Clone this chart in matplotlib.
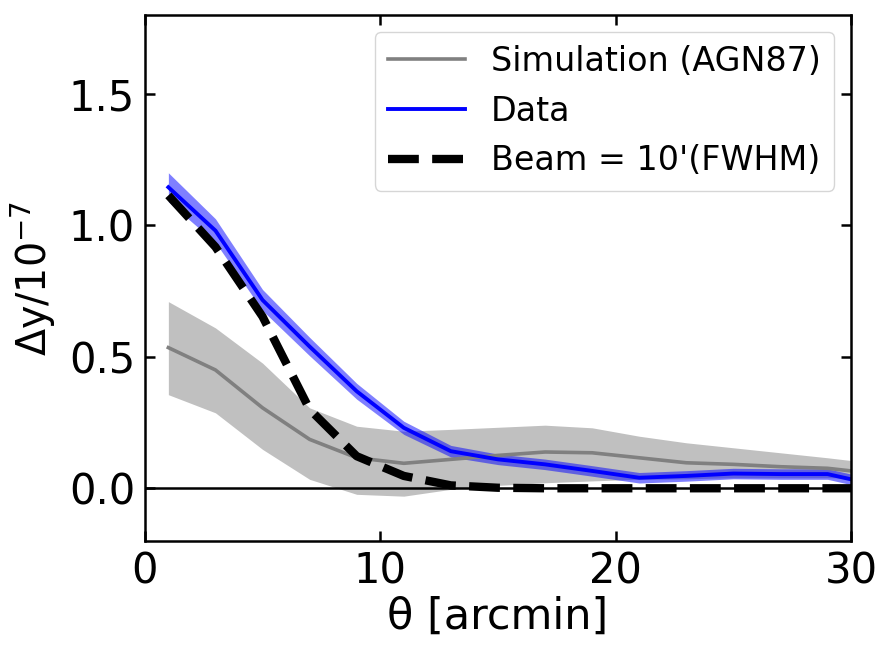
import matplotlib
matplotlib.use("Agg")
import matplotlib.pyplot as plt
import numpy as np

theta = [1, 3, 5, 7, 9, 11, 13, 15, 17, 19, 21, 23, 25, 27, 29, 31]

data = [1.145, 0.98, 0.716, 0.539, 0.369, 0.23, 0.141, 0.11, 0.091, 0.066, 0.04, 0.047, 0.056, 0.054, 0.054, 0.014]
data_err = [0.055, 0.045, 0.04, 0.035, 0.03, 0.025, 0.022, 0.02, 0.02, 0.02, 0.02, 0.02, 0.02, 0.02, 0.02, 0.02]

sim = [0.535, 0.45, 0.306, 0.186, 0.116, 0.095, 0.11, 0.125, 0.138, 0.135, 0.116, 0.097, 0.091, 0.082, 0.076, 0.056]
sim_lo = [0.356, 0.287, 0.148, 0.034, -0.023, -0.03, -0.004, 0.011, 0.021, 0.028, 0.034, 0.036, 0.04, 0.04, 0.04, 0.04]
sim_hi = [0.71, 0.61, 0.476, 0.306, 0.236, 0.217, 0.224, 0.232, 0.24, 0.23, 0.198, 0.173, 0.154, 0.135, 0.116, 0.095]

beam = [1.114, 0.918, 0.653, 0.30, 0.122, 0.047, 0.011, 0.002, 0.0, 0.0, 0.0, 0.0, 0.0, 0.0, 0.0, 0.0]

xticks = [0, 10, 20, 30]
yticks = [0.0, 0.5, 1.0, 1.5]
ytick_labels = ['0.0', '0.5', '1.0', '1.5']

theta = np.array(theta)
data = np.array(data)
data_err = np.array(data_err)

fig = plt.figure(figsize=(8.94, 6.54), dpi=100)
ax = fig.add_axes([0.162, 0.173, 0.790, 0.804])

ax.fill_between(theta, sim_lo, sim_hi, color='silver', lw=0)
ax.plot(theta, sim, color='gray', lw=2.6, label='Simulation (AGN87)')
ax.fill_between(theta, data - data_err, data + data_err, color='blue', alpha=0.5, lw=0)
ax.plot(theta, data, color='blue', lw=2.8, label='Data')
ax.plot(theta, beam, color='black', lw=6, ls='--', label="Beam = 10'(FWHM)")
ax.axhline(0, color='black', lw=1.8)

ax.set_xlim(0, 30)
ax.set_ylim(-0.2, 1.8)
ax.set_xticks(xticks)
ax.set_yticks(yticks)
ax.set_yticklabels(ytick_labels)
ax.tick_params(direction='in', top=True, right=True, length=7, width=1.8, pad=7, labelsize=30)
for s in ax.spines.values():
    s.set_linewidth(1.8)
ax.set_xlabel('θ [arcmin]', fontsize=31, labelpad=2)
ax.set_ylabel(r'$\Delta$y/10$^{-7}$', fontsize=28.5, labelpad=8)
ax.legend(loc='upper right', fontsize=24, handlelength=2.3)

fig.savefig('out.png', dpi=100)
